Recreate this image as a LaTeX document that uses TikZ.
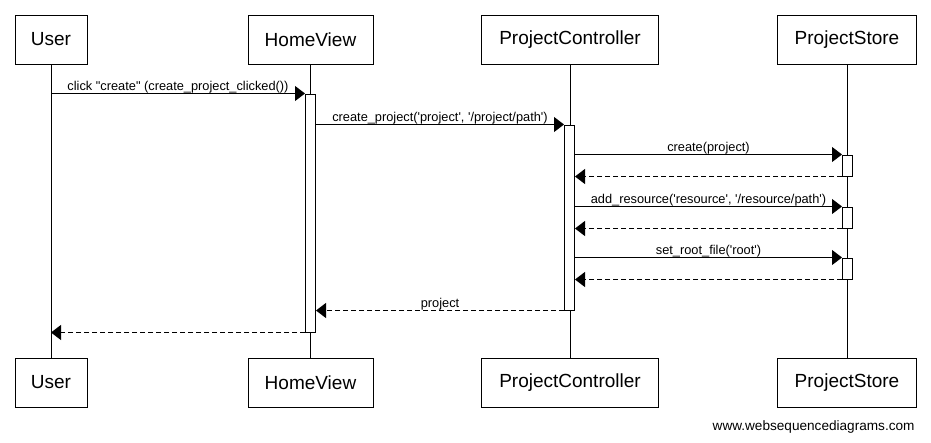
\documentclass[tikz,border=0pt]{standalone}
\usepackage{fontspec}
\setmainfont{Liberation Sans}[Ligatures=TeXOff]
\usetikzlibrary{arrows.meta}
\begin{document}
\begin{tikzpicture}[x=1pt,y=-1pt, line width=1pt,
  actor/.style={draw, fill=white, minimum height=49pt, inner sep=0pt, font=\fontsize{19}{21}\selectfont},
  act/.style={draw, fill=white, minimum width=10pt, inner sep=0pt},
  msg/.style={-{Triangle[length=10pt,width=15pt]}},
  ret/.style={msg, dash pattern=on 5pt off 3pt},
  lbl/.style={midway, anchor=base, yshift=3pt, inner sep=0pt, font=\fontsize{12.8}{14}\selectfont}]
\useasboundingbox (0,0) rectangle (931,442);

% actors
\node[actor, minimum width=72pt]  (userT) at (51,39.5)  {User};
\node[actor, minimum width=125pt] (hvT)   at (310.5,39.5) {HomeView};
\node[actor, minimum width=177pt] (pcT)   at (570,39.5) {ProjectController};
\node[actor, minimum width=139pt] (psT)   at (847,39.5) {ProjectStore};
\node[actor, minimum width=72pt]  (userB) at (51,382.5)  {User};
\node[actor, minimum width=125pt] (hvB)   at (310.5,382.5) {HomeView};
\node[actor, minimum width=177pt] (pcB)   at (570,382.5) {ProjectController};
\node[actor, minimum width=139pt] (psB)   at (847,382.5) {ProjectStore};

% lifelines
\draw (userT) -- (userB);
\draw (hvT) -- (hvB);
\draw (pcT) -- (pcB);
\draw (psT) -- (psB);

% activations
\node[act, minimum height=238pt] (hvA)  at (310.5,213) {};
\node[act, minimum height=185pt] (pcA)  at (569.5,217.5) {};
\node[act, minimum height=21pt]  (psA1) at (847.5,165.5) {};
\node[act, minimum height=21pt]  (psA2) at (847.5,217.5) {};
\node[act, minimum height=21pt]  (psA3) at (847.5,268.5) {};

% messages
\draw[msg] (userT.south |- hvA.north west) -- node[lbl] {click "create" (create\_project\_clicked())} (hvA.north west);
\draw[msg] (hvA.east |- pcA.north west) -- node[lbl] {create\_project('project', '/project/path')} (pcA.north west);

\draw[msg] (pcA.east |- psA1.north west) -- node[lbl] {create(project)} (psA1.north west);
\draw[ret] (psA1.south west) -- (pcA.east |- psA1.south west);

\draw[msg] (pcA.east |- psA2.north west) -- node[lbl] {add\_resource('resource', '/resource/path')} (psA2.north west);
\draw[ret] (psA2.south west) -- (pcA.east |- psA2.south west);

\draw[msg] (pcA.east |- psA3.north west) -- node[lbl] {set\_root\_file('root')} (psA3.north west);
\draw[ret] (psA3.south west) -- (pcA.east |- psA3.south west);

\draw[ret] (pcA.south west) -- node[lbl] {project} (hvA.east |- pcA.south west);
\draw[ret] (hvA.south west) -- (userT.south |- hvA.south west);

% watermark
\node[anchor=base east, inner sep=0pt, font=\fontsize{13.6}{15}\selectfont] (wm) at (915,430.5) {www.websequencediagrams.com};
\end{tikzpicture}
\end{document}
